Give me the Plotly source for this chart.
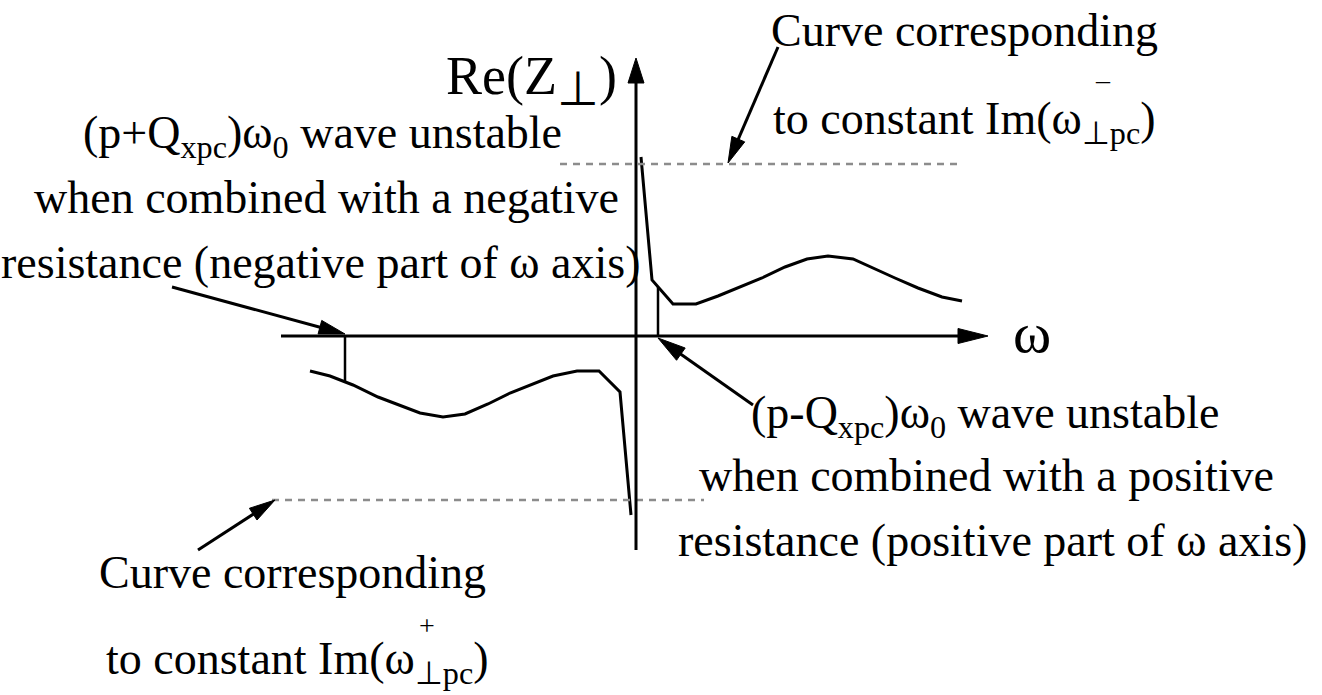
import math
import plotly.graph_objects as go

# Schematic Re(Z_perp) versus omega; 1 unit = 10 px on both axes
omega_neg = [-32.6, -30.6, -28.3, -25.8, -21.6, -19.3, -17.1, -14.8, -12.6, -8.3, -5.9, -3.7, -1.6, -0.5]
rez_neg = [-3.5, -4.0, -4.9, -6.1, -7.7, -8.1, -7.8, -6.8, -5.7, -4.0, -3.5, -3.5, -5.6, -17.9]
omega_pos = [0.5, 1.6, 3.7, 6.0, 8.2, 12.6, 14.9, 17.1, 19.2, 21.7, 25.9, 28.2, 30.6, 32.6]
rez_pos = [17.9, 5.6, 3.2, 3.2, 4.0, 5.8, 6.9, 7.7, 8.0, 7.7, 5.8, 4.8, 3.9, 3.5]

# unstable lines (p+Q)w0 and (p-Q)w0
omega_lines = [-29.1, 2.2]
rez_lines = [-4.6, 4.9]

# constant Im(omega) levels
im_minus_level = 17.2
im_minus_span = [-7.6, 32.6]
im_plus_level = -16.4
im_plus_span = [-36.4, 6.8]

X_RANGE = [-63.6, 68.6]
Y_RANGE = [-35.9, 33.6]

FONT = "Liberation Serif"
BLACK = "#000000"
GREY = "#8c8c8c"

fig = go.Figure()

fig.add_trace(go.Scatter(x=omega_neg, y=rez_neg, mode="lines",
                         line=dict(color=BLACK, width=3), hoverinfo="skip"))
fig.add_trace(go.Scatter(x=omega_pos, y=rez_pos, mode="lines",
                         line=dict(color=BLACK, width=3), hoverinfo="skip"))
for xv, yv in zip(omega_lines, rez_lines):
    fig.add_trace(go.Scatter(x=[xv, xv], y=[0, yv], mode="lines",
                             line=dict(color=BLACK, width=2.5), hoverinfo="skip"))

fig.add_trace(go.Scatter(x=im_minus_span, y=[im_minus_level] * 2, mode="lines",
                         line=dict(color=GREY, width=2.5, dash="7px,6px"), hoverinfo="skip"))
fig.add_trace(go.Scatter(x=im_plus_span, y=[im_plus_level] * 2, mode="lines",
                         line=dict(color=GREY, width=2.5, dash="7px,6px"), hoverinfo="skip"))

shapes = []


def arrow(x0, y0, x1, y1, head_len, head_half, width=3):
    """Shaft from (x0, y0) to a filled triangular head with its tip at (x1, y1)."""
    dx, dy = x1 - x0, y1 - y0
    d = math.hypot(dx, dy)
    ux, uy = dx / d, dy / d
    bx, by = x1 - ux * head_len, y1 - uy * head_len
    px, py = -uy * head_half, ux * head_half
    shapes.append(dict(type="line", x0=x0, y0=y0, x1=bx + ux * 0.3, y1=by + uy * 0.3,
                       line=dict(color=BLACK, width=width)))
    shapes.append(dict(type="path",
                       path=f"M{x1},{y1} L{bx + px},{by + py} L{bx - px},{by - py} Z",
                       fillcolor=BLACK, line=dict(color=BLACK, width=1)))


# axes
arrow(-35.5, 0, 35.2, 0, 3.0, 0.75)
arrow(0, -21.4, 0, 27.8, 2.5, 0.8)

# pointers
arrow(14.2, 28.9, 9.2, 17.3, 2.6, 0.7)
arrow(-46.4, 4.9, -29.1, 0.2, 2.6, 0.7)
arrow(11.7, -6.9, 2.2, -0.2, 2.8, 0.75)
arrow(-43.8, -21.4, -36.1, -16.4, 2.6, 0.7)

labels = [
    ("Re(Z<sub><span style='font-size:48px'>⊥</span></sub>)", -10.5, 25.6, 54),
    ("ω", 39.6, 0.4, 58),
    ("(p+Q<sub>xpc</sub>)ω<sub>0</sub> wave unstable", -31.4, 20.0, 46),
    ("when combined with a negative", -31.0, 13.9, 46),
    ("resistance (negative part of ω axis)", -31.5, 7.4, 46),
    ("(p-Q<sub>xpc</sub>)ω<sub>0</sub> wave unstable", 34.9, -8.0, 46),
    ("when combined with a positive", 35.0, -13.9, 46),
    ("resistance (positive part of ω axis)", 35.6, -20.4, 46),
    ("Curve corresponding", 32.8, 30.6, 46),
    ("to constant Im(ω<sub>⊥pc</sub>)", 32.8, 21.4, 46),
    ("–", 46.7, 25.7, 28),
    ("Curve corresponding", -34.4, -23.6, 46),
    ("to constant Im(ω<sub>⊥pc</sub>)", -33.9, -32.6, 46),
    ("+", -20.9, -28.9, 28),
]

annotations = [
    dict(text=t, x=x, y=y, xref="x", yref="y", showarrow=False,
         xanchor="center", yanchor="middle",
         font=dict(family=FONT, size=s, color=BLACK))
    for t, x, y, s in labels
]

fig.update_layout(
    width=1322, height=695,
    margin=dict(l=0, r=0, t=0, b=0),
    paper_bgcolor="white", plot_bgcolor="white",
    showlegend=False,
    font=dict(family=FONT),
    xaxis=dict(range=X_RANGE, visible=False, fixedrange=True),
    yaxis=dict(range=Y_RANGE, visible=False, fixedrange=True),
    shapes=shapes,
    annotations=annotations,
)

fig.write_html("out.html")
